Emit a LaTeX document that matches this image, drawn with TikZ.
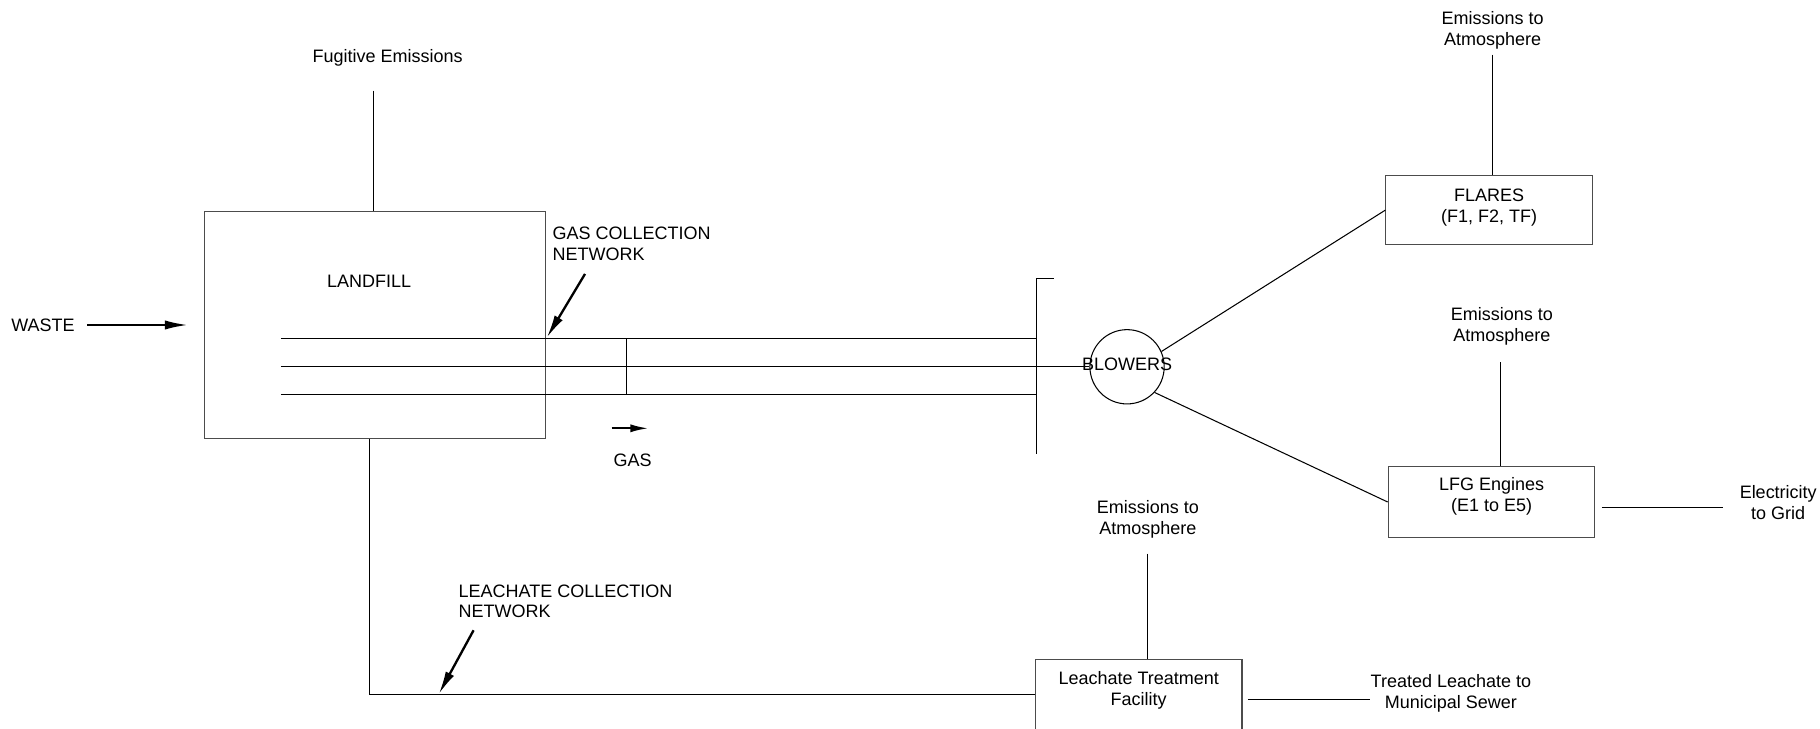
\documentclass[tikz,border=0pt]{standalone}
\usepackage{fontspec}
\setmainfont{Liberation Sans}
\usetikzlibrary{arrows.meta}
\begin{document}
\begin{tikzpicture}[x=1pt,y=-1pt,
  font=\fontsize{15.5}{18}\selectfont,
  every node/.style={inner sep=0pt},
  txt/.style={align=center},
  boxnode/.style={draw=black!70, line width=0.9pt},
  pipe/.style={draw=black, line width=0.9pt},
  bigarrow/.style={draw=black, line width=2pt, -{Latex[length=20pt,width=8pt]}},
  smallarrow/.style={draw=black, line width=2pt, -{Latex[length=16pt,width=7pt]}}]
\useasboundingbox (0,0) rectangle (1568,628);
\clip (0,0) rectangle (1568,628);

% boxes
\node[boxnode, minimum width=294pt, minimum height=196pt] (landfill) at (323,280) {};
\node[boxnode, minimum width=178pt, minimum height=60pt] (flares) at (1283,181) {};
\node[boxnode, minimum width=178pt, minimum height=61pt] (engines) at (1285,432.5) {};
\node[boxnode, minimum width=178pt, minimum height=61pt] (leach) at (981,598.5) {};
\node[circle, draw=black, line width=0.9pt, minimum size=64pt] (blow) at (971,316) {};

% texts
\node (landlbl) at (318,242) {LANDFILL};
\node (fug) at (334,50) {Fugitive Emissions};
\node (waste) at (37,280) {WASTE};
\node[anchor=west, align=left] (gcn) at (476,210) {GAS COLLECTION\\NETWORK};
\node (gas) at (545,397) {GAS};
\node[anchor=west, align=left] (lcn) at (395,518) {LEACHATE COLLECTION\\NETWORK};
\node (blowlbl) at (971,314) {BLOWERS};
\node[txt] (flaresT) at (1283,179) {FLARES\\(F1, F2, TF)};
\node[txt] (enginesT) at (1285,428) {LFG Engines\\(E1 to E5)};
\node[txt] (leachT) at (981,595) {Leachate Treatment\\Facility};
\node[txt] (em1) at (1286,26) {Emissions to\\Atmosphere};
\node[txt] (em2) at (1294,281.5) {Emissions to\\Atmosphere};
\node[txt] (em3) at (989,447.5) {Emissions to\\Atmosphere};
\node[txt] (elec) at (1532,433) {Electricity\\to Grid};
\node[txt] (treat) at (1250,597) {Treated Leachate to\\Municipal Sewer};

% free-end coordinates
\coordinate (fugend) at (322,78);
\coordinate (p1s) at (242,292);
\coordinate (p2s) at (242,316);
\coordinate (p3s) at (242,340);
\coordinate (mtop) at (893,240);
\coordinate (mbot) at (893,391);
\coordinate (mtick) at (908,240);
\coordinate (cb) at (540,292);
\coordinate (wA) at (75,280);
\coordinate (wB) at (162,280);
\coordinate (gA) at (504,236);
\coordinate (gB) at (471,291);
\coordinate (sA) at (527,369);
\coordinate (sB) at (559,369);
\coordinate (lA) at (408,543);
\coordinate (lB) at (378,598);
\coordinate (lc) at (318,598);
\coordinate (e1) at (1286,47);
\coordinate (e2) at (1293,312);
\coordinate (e3) at (989,477);
\coordinate (tA) at (1075,603);
\coordinate (tB) at (1180,603);
\coordinate (xA) at (1380,437);
\coordinate (xB) at (1484,437);

% connectors
\draw[pipe] (fugend) -- (fugend |- landfill.north);
\draw[pipe] (p1s) -- (p1s -| mtop);
\draw[pipe] (p2s) -- (blow.west);
\draw[pipe] (p3s) -- (p3s -| mtop);
\draw[pipe] (mtick) -- (mtop) -- (mbot);
\draw[pipe] (cb) -- (cb |- p3s);
\draw[pipe] (blow.24) -- (flares.west);
\draw[pipe] (blow.-43) -- (engines.west);
\draw[pipe] (e1) -- (e1 |- flares.north);
\draw[pipe] (e2) -- (e2 |- engines.north);
\draw[pipe] (e3) -- (e3 |- leach.north);
\draw[pipe] (lc |- landfill.south) -- (lc) -- (lc -| leach.west);
\draw[pipe] (tA) -- (tB);
\draw[pipe] (xA) -- (xB);

% arrows
\draw[bigarrow] (wA) -- (wB);
\draw[bigarrow] (gA) -- (gB);
\draw[bigarrow] (lA) -- (lB);
\draw[smallarrow] (sA) -- (sB);
\end{tikzpicture}
\end{document}
